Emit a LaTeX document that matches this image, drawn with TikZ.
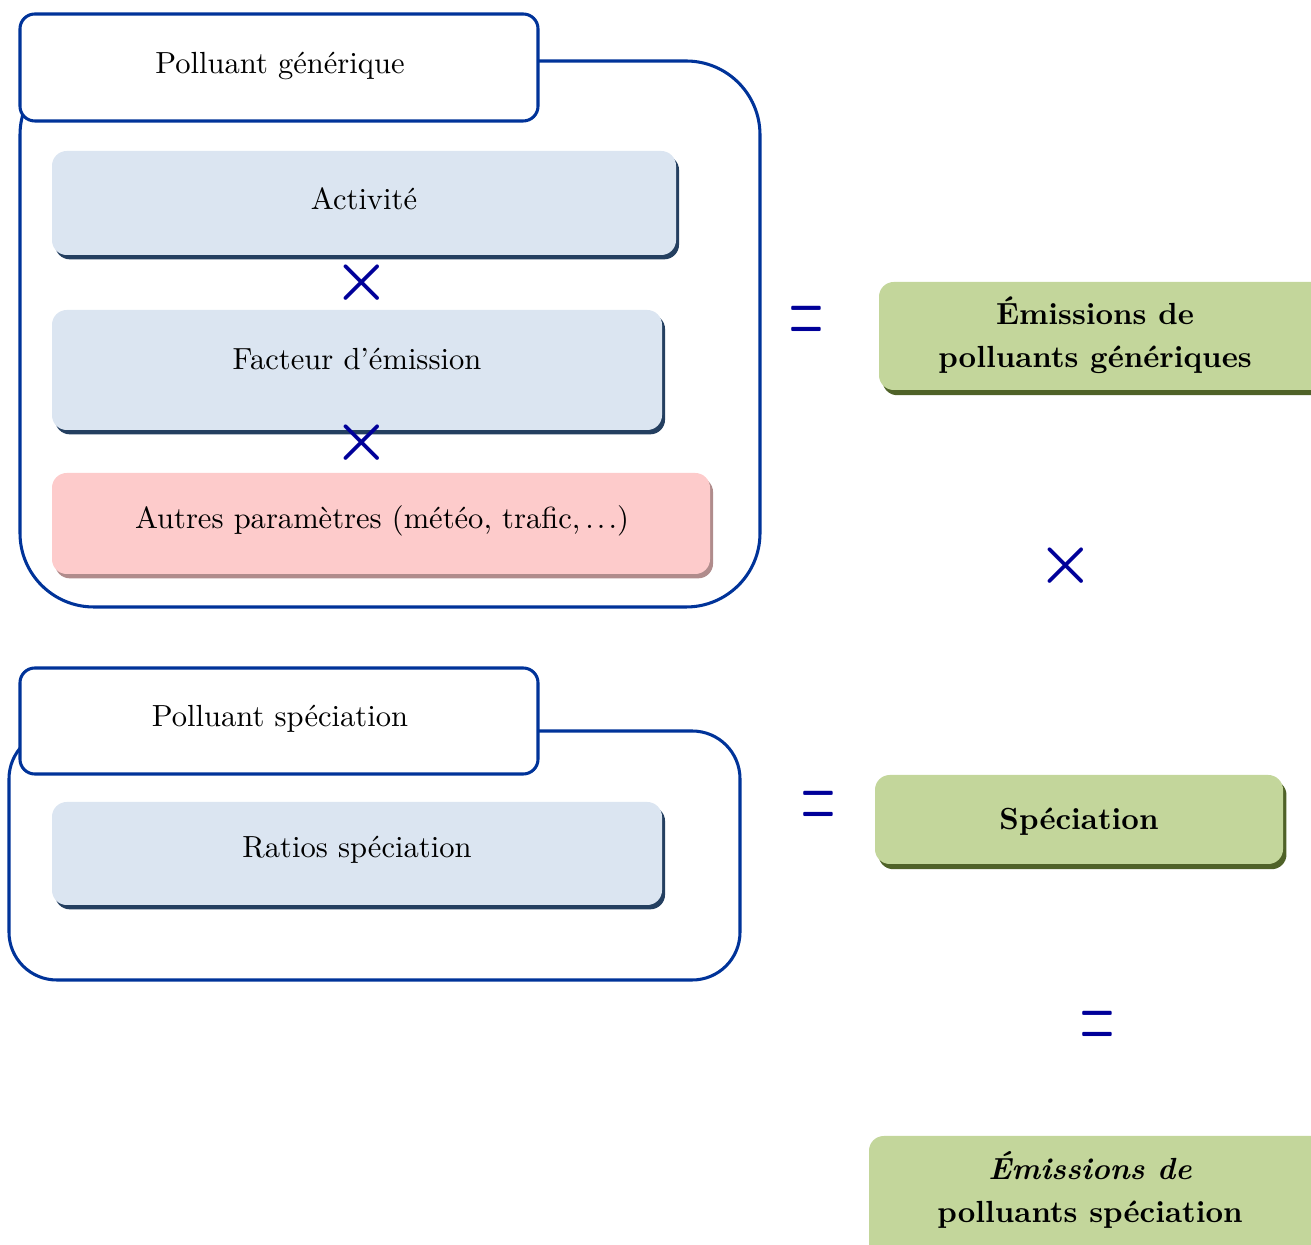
\documentclass[tikz,border=0pt]{standalone}
\usepackage{fontspec}
\usepackage{graphicx}
\usetikzlibrary{shadows}

\definecolor{framecol}{RGB}{0,51,153}
\definecolor{boxblue}{RGB}{219,229,241}
\definecolor{shadeblue}{RGB}{36,63,96}
\definecolor{boxpink}{RGB}{253,203,203}
\definecolor{shadepink}{RGB}{176,140,140}
\definecolor{boxgreen}{RGB}{195,214,155}
\definecolor{shadegreen}{RGB}{79,98,40}
\definecolor{opcol}{RGB}{0,0,153}

\newcommand{\eqsign}{\scalebox{0.62}[1.56]{$=$}}

\begin{document}
\begin{tikzpicture}[x=0.0115cm, y=-0.0115cm,
  frame/.style={draw=framecol, line width=1pt},
  titlebox/.style={frame, fill=white, rounded corners=0.17cm},
  softbox/.style={fill=#1, rounded corners=0.17cm},
  blueshade/.style={drop shadow={shadow xshift=0.035cm, shadow yshift=-0.05cm, fill=shadeblue, opacity=1}},
  pinkshade/.style={drop shadow={shadow xshift=0.035cm, shadow yshift=-0.05cm, fill=shadepink, opacity=1}},
  greenshade/.style={drop shadow={shadow xshift=0.04cm, shadow yshift=-0.06cm, fill=shadegreen, opacity=1}},
  result/.style={font=\bfseries, align=center},
  op/.style={text=opcol, font=\boldmath\huge},
  opeq/.style={text=opcol, font=\Huge}]
\useasboundingbox (0,0) rectangle (1311,1245);

% polluant generique
\draw[frame, rounded corners=0.85cm] (20,61) rectangle (760,607);
\draw[titlebox] (20,14) rectangle (538,121);
\node (pgen) at (280,66) {Polluant générique};

\path[softbox=boxblue, blueshade] (52,151) rectangle (676,255);
\node (act) at (364,199) {Activité};
\node[op] (mul1) at (362,283) {$\times$};

\path[softbox=boxblue, blueshade] (52,310) rectangle (662,430);
\node (fe) at (357,359) {Facteur d’émission};
\node[op] (mul2) at (362,443) {$\times$};

\path[softbox=boxpink, pinkshade] (52,473) rectangle (710,574);
\node (autres) at (382,521) {Autres paramètres (météo, trafic,\,.\kern1pt.\kern1pt.)};

\node[opeq] (eq1) at (806,327) {\eqsign};
\path[softbox=boxgreen, greenshade] (879,282) rectangle (1345,390);
\node[result] (emgen) at (1095,335) {Émissions de\\[2pt] polluants génériques};

\node[op] (mul3) at (1066,566) {$\times$};

% polluant speciation
\draw[frame, rounded corners=0.55cm] (9,731) rectangle (740,980);
\draw[titlebox] (20,668) rectangle (538,774);
\node (pspec) at (280,719) {Polluant spéciation};

\path[softbox=boxblue, blueshade] (52,802) rectangle (662,905);
\node (ratios) at (357,850) {Ratios spéciation};

\node[opeq] (eq2) at (818,812) {\eqsign};
\path[softbox=boxgreen, greenshade] (875,775) rectangle (1283,864);
\node[result] (spec) at (1079,822) {Spéciation};

\node[opeq] (eq3) at (1097,1032) {\eqsign};
\path[softbox=boxgreen, greenshade] (869,1136) rectangle (1345,1290);
\node[result] (emspec) at (1090,1190) {\textit{Émissions de}\\[2pt] polluants spéciation};
\end{tikzpicture}
\end{document}
